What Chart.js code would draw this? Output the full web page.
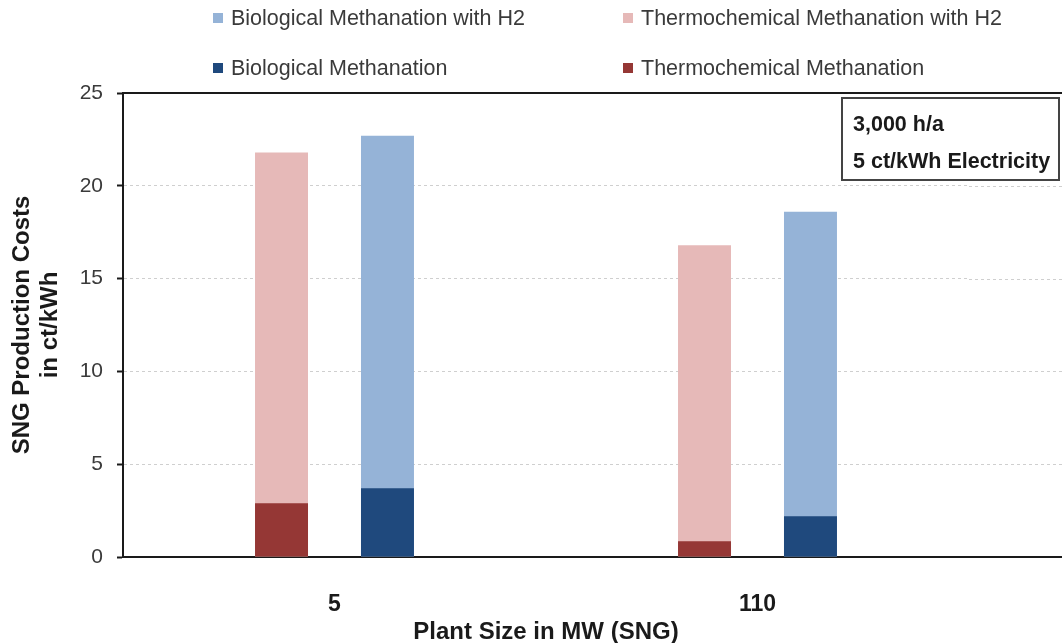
<!DOCTYPE html>
<html>
<head>
<meta charset="utf-8">
<script src="https://cdn.jsdelivr.net/npm/chart.js@4.4.1/dist/chart.umd.min.js"></script>
<style>
  html, body { margin: 0; padding: 0; background: #fff; }
  #wrap { position: relative; width: 1062px; height: 643px; }
  #legend { position: absolute; left: 0; top: 0; width: 1062px; height: 90px;
            font-family: "Liberation Sans", Arial, sans-serif; font-size: 21.5px; color: #3a3a3a; }
  .item { position: absolute; display: flex; align-items: center; height: 24px; white-space: nowrap; }
  .sw { width: 10px; height: 10px; margin-right: 8px; flex: none; }
</style>
</head>
<body>
<div id="wrap">
  <canvas id="c" width="1062" height="643"></canvas>
  <div id="legend"></div>
</div>
<script>
// SNG production costs (ct/kWh) by plant size
const plantSizes = ['5', '110'];
const thermoWithH2 = [21.8, 16.8];
const bioWithH2 = [22.7, 18.6];
const thermoBase = [2.9, 0.85];
const bioBase = [3.7, 2.2];
const costTicks = [0, 5, 10, 15, 20, 25];
const noteLines = ['3,000 h/a', '5 ct/kWh Electricity'];

const FONT = '"Liberation Sans", Arial, sans-serif';
const INK = '#1a1a1a';

// Bars of the same stack group share a slot and overlap (values are not summed),
// so the base-cost bars sit in front of the taller "with H2" bars.
const datasets = [
  { label: 'Thermochemical Methanation', data: thermoBase, stack: 'thermo', backgroundColor: '#953735' },
  { label: 'Biological Methanation', data: bioBase, stack: 'bio', backgroundColor: '#1F497D' },
  { label: 'Thermochemical Methanation with H2', data: thermoWithH2, stack: 'thermo', backgroundColor: '#E6B9B8' },
  { label: 'Biological Methanation with H2', data: bioWithH2, stack: 'bio', backgroundColor: '#95B3D7' }
];
datasets.forEach(d => { d.categoryPercentage = 0.501; d.barPercentage = 0.5; d.borderWidth = 0; });

// Horizontal rules continue past the plot to the right edge of the figure
const ruleExtension = {
  id: 'ruleExtension',
  beforeDatasetsDraw(chart) {
    const { ctx, chartArea, scales: { y } } = chart;
    const right = chart.width;
    ctx.save();
    ctx.lineWidth = 1;
    ctx.strokeStyle = '#cfcfcf';
    ctx.setLineDash([3, 3]);
    y.ticks.forEach(t => {
      if (t.value <= 0 || t.value >= 25) return;
      const py = Math.round(y.getPixelForValue(t.value)) + 0.5;
      ctx.beginPath(); ctx.moveTo(chartArea.right, py); ctx.lineTo(right, py); ctx.stroke();
    });
    ctx.setLineDash([]);
    ctx.lineWidth = 2;
    ctx.strokeStyle = INK;
    const top = Math.round(y.getPixelForValue(25));
    ctx.beginPath(); ctx.moveTo(chartArea.left, top); ctx.lineTo(right, top); ctx.stroke();
    ctx.restore();
  },
  afterDraw(chart) {
    const { ctx, chartArea, scales: { y } } = chart;
    ctx.save();
    ctx.lineWidth = 2;
    ctx.strokeStyle = INK;
    const base = Math.round(y.getPixelForValue(0));
    ctx.beginPath(); ctx.moveTo(chartArea.right - 1, base); ctx.lineTo(chart.width, base); ctx.stroke();
    // note box
    const bx = 842, by = 98, bw = 217, bh = 82;
    ctx.fillStyle = '#fff';
    ctx.fillRect(bx, by, bw, bh);
    ctx.strokeStyle = '#444';
    ctx.strokeRect(bx, by, bw, bh);
    ctx.fillStyle = INK;
    ctx.font = 'bold 21.5px ' + FONT;
    ctx.textBaseline = 'middle';
    ctx.textAlign = 'left';
    noteLines.forEach((s, i) => ctx.fillText(s, bx + 11, by + 27 + i * 37));
    ctx.restore();
  }
};

const chart = new Chart(document.getElementById('c'), {
  type: 'bar',
  data: { labels: plantSizes, datasets },
  plugins: [ruleExtension],
  options: {
    responsive: false,
    devicePixelRatio: 1,
    animation: false,
    layout: { padding: { left: 0, right: 93, top: 93, bottom: 0 } },
    plugins: { legend: { display: false }, tooltip: { enabled: false } },
    scales: {
      x: {
        stacked: true,
        grid: { display: false, drawTicks: false },
        border: { display: true, color: INK, width: 2 },
        ticks: { color: INK, padding: 34, font: { family: FONT, size: 23, weight: 'bold' } },
        title: {
          display: true, text: 'Plant Size in MW (SNG)', color: INK,
          font: { family: FONT, size: 24, weight: 'bold', lineHeight: 0.85 },
          padding: { top: 0, bottom: 0 }
        },
        afterFit(scale) { scale.height = 86; }
      },
      y: {
        stacked: false,
        min: 0, max: 25,
        afterBuildTicks(scale) { scale.ticks = costTicks.map(v => ({ value: v })); },
        grid: {
          color: ctx => (ctx.tick && ctx.tick.value === 25) ? 'rgba(0,0,0,0)' : '#cfcfcf',
          lineWidth: 1,
          tickColor: INK, tickLength: 6, tickWidth: 2
        },
        border: { display: true, color: INK, width: 2, dash: [3, 3] },
        ticks: { color: '#3a3a3a', padding: 14, font: { family: FONT, size: 21 } },
        title: {
          display: true, text: ['SNG Production Costs', 'in ct/kWh'], color: INK,
          font: { family: FONT, size: 24, weight: 'bold', lineHeight: 1.15 },
          padding: { top: 9, bottom: 0 }
        },
        afterFit(scale) { scale.width = 123; }
      }
    }
  }
});

// legend: two rows, two columns
const legendEl = document.getElementById('legend');
const legendOrder = [3, 2, 1, 0];
const legendLeft = [213, 623];
const legendTop = [6, 56];
legendOrder.forEach((di, k) => {
  const ds = datasets[di];
  const item = document.createElement('div');
  item.className = 'item';
  item.style.left = legendLeft[k % 2] + 'px';
  item.style.top = legendTop[Math.floor(k / 2)] + 'px';
  const sw = document.createElement('span');
  sw.className = 'sw';
  sw.style.background = ds.backgroundColor;
  const tx = document.createElement('span');
  tx.textContent = ds.label;
  item.appendChild(sw); item.appendChild(tx);
  legendEl.appendChild(item);
});
</script>
</body>
</html>
